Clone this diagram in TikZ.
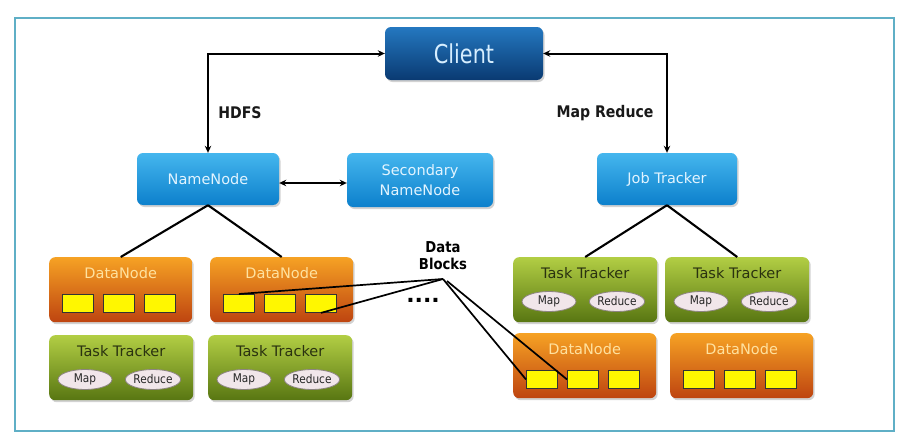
\documentclass[tikz,border=0pt]{standalone}
\usepackage{fontspec}
\setmainfont{DejaVu Sans}
\newfontfamily\clientfont[FakeStretch=0.8]{DejaVu Sans}
\newfontfamily\labfont[FakeStretch=0.88]{DejaVu Sans}
\usetikzlibrary{arrows.meta,shadows,shapes.geometric,calc}

\definecolor{frameC}{HTML}{5FAFC6}
\definecolor{cTop}{HTML}{2478C0}
\definecolor{cBot}{HTML}{0A3A72}
\definecolor{cTxt}{HTML}{D6EEFF}
\definecolor{bTop}{HTML}{45B6EE}
\definecolor{bBot}{HTML}{0C80CC}
\definecolor{bTxt}{HTML}{E2F4FF}
\definecolor{dTop}{HTML}{F6A224}
\definecolor{dBot}{HTML}{BE4410}
\definecolor{dTxt}{HTML}{FFE2A0}
\definecolor{tTop}{HTML}{B2CE44}
\definecolor{tBot}{HTML}{587612}
\definecolor{tTxt}{HTML}{2A3210}
\definecolor{eFill}{HTML}{F1E6EA}
\definecolor{eDraw}{HTML}{8C8480}
\definecolor{blkC}{HTML}{FFF700}

\newcommand{\dnode}[3]{%
  \node[dnbox] (#1) at (#2,#3) {};
  \node[dntext] (#1-t) at ([yshift=-16pt]#1.north) {DataNode};
  \node[blk] (#1-b1) at ([xshift=13pt,yshift=-37pt]#1.north west) {};
  \node[blk] (#1-b2) at ([xshift=54pt,yshift=-37pt]#1.north west) {};
  \node[blk] (#1-b3) at ([xshift=95pt,yshift=-37pt]#1.north west) {};
}
\newcommand{\tnode}[3]{%
  \node[ttbox] (#1) at (#2,#3) {};
  \node[tttext] (#1-t) at ([yshift=-16pt]#1.north) {Task Tracker};
  \node[ell] (#1-m) at ([xshift=36pt,yshift=-44.5pt]#1.north west) {Map};
  \node[ell] (#1-r) at ([xshift=104pt,yshift=-44.5pt]#1.north west) {Reduce};
}

\tikzset{
  box/.style={rounded corners=6pt, inner sep=0pt,
    drop shadow={opacity=0.35, shadow xshift=1.5pt, shadow yshift=-2pt}},
  clientbox/.style={box, minimum width=158pt, minimum height=53pt,
    top color=cTop, bottom color=cBot, text=cTxt,
    font=\clientfont\fontsize{26}{30}\selectfont},
  bluebox/.style={box, minimum height=52pt, top color=bTop, bottom color=bBot,
    text=bTxt, align=center, font=\fontsize{14.5}{20}\selectfont},
  dnbox/.style={box, anchor=north west, minimum width=143pt, minimum height=65pt,
    top color=dTop, bottom color=dBot},
  ttbox/.style={box, anchor=north west, minimum width=144pt, minimum height=65pt,
    top color=tTop, bottom color=tBot},
  dntext/.style={text=dTxt, font=\fontsize{14.5}{16}\selectfont, inner sep=0pt},
  tttext/.style={text=tTxt, font=\fontsize{14.5}{16}\selectfont, inner sep=0pt},
  blk/.style={draw=black!80, fill=blkC, line width=0.9pt, anchor=north west,
    minimum width=31pt, minimum height=18pt, inner sep=0pt},
  ell/.style={ellipse, draw=eDraw, fill=eFill, line width=0.8pt,
    minimum width=54pt, minimum height=20pt, inner sep=0pt, text=black!85,
    font=\labfont\fontsize{12}{13}\selectfont},
  conn/.style={line width=2.1pt, black},
  biarrow/.style={line width=2pt, black,
    {Stealth[length=7pt,width=6.5pt]}-{Stealth[length=7pt,width=6.5pt]}},
  thin line/.style={line width=1.7pt, black},
  lab/.style={font=\labfont\bfseries\fontsize{16}{18}\selectfont, text=black!90},
}

\begin{document}
\begin{tikzpicture}[x=1pt,y=-1pt]
  \useasboundingbox (0,0) rectangle (911,439);
  \fill[white] (0,0) rectangle (911,439);
  \draw[frameC, line width=1.6pt] (15,17.7) rectangle (894,431);

  % top row
  \node[clientbox] (client) at (464,53.5) {Client};
  \node[bluebox, minimum width=142pt] (nn) at (208,179) {NameNode};
  \node[bluebox, minimum width=146pt, minimum height=54pt] (snn) at (420,180)
    {Secondary\\NameNode};
  \node[bluebox, minimum width=140pt] (jt) at (667,179) {Job Tracker};

  % labels
  \node[lab] (hdfs) at (240,113) {HDFS};
  \node[lab] (mr) at (605,113) {Map Reduce};

  % lower boxes
  \dnode{dnA}{49}{257}
  \dnode{dnB}{210}{257}
  \tnode{ttA}{49}{335}
  \tnode{ttB}{208}{335}
  \tnode{ttC}{513}{257}
  \tnode{ttD}{665}{257}
  \dnode{dnC}{513}{333}
  \dnode{dnD}{670}{333}

  % connectors
  \draw[biarrow] (client.west) -| (nn.north);
  \draw[biarrow] (client.east) -| (jt.north);
  \draw[biarrow] ([yshift=-4pt]nn.east) -- ([yshift=-4pt]nn.east -| snn.west);

  \draw[conn] (nn.south) -- (dnA.north);
  \draw[conn] (nn.south) -- (dnB.north);
  \draw[conn] (jt.south) -- (ttC.north);
  \draw[conn] (jt.south) -- (ttD.north);

  % data blocks
  \node[font=\labfont\bfseries\fontsize{15}{17}\selectfont, align=center]
    (db) at (443,256) {Data\\Blocks};
  \coordinate (dbL) at (443,279);
  \coordinate (dbR) at (447,281);
  \draw[thin line] (dbL) -- (dnB-b1.north);
  \draw[thin line] (dbL) -- (dnB-b3.south);
  \draw[thin line] (dbL) -- (dnC-b1.west);
  \draw[thin line] (dbR) -- (dnC-b2.west);
  \node[font=\bfseries\fontsize{22}{22}\selectfont] (dots) at (423,300) {....};
\end{tikzpicture}
\end{document}
